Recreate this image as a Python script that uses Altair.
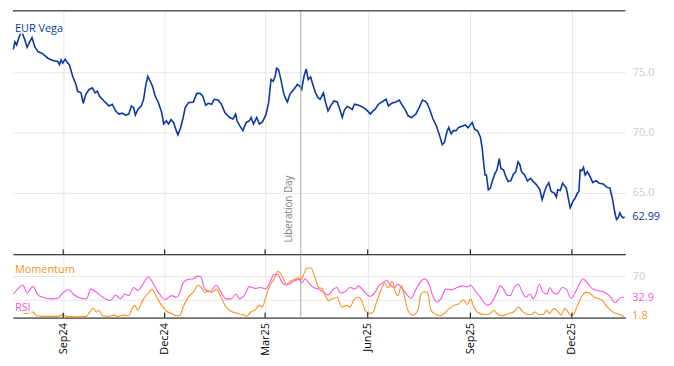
import altair as alt
import pandas as pd

# ---------------- data ----------------
START = "2024-07-18"          # day offsets below are counted from this date
END = "2026-01-18"

vega_days = [0.3, 1.8, 3.3, 5.6, 7.7, 10.6, 12.7, 15.1, 17.1, 19.5,
             22.4, 26.9, 31.3, 35.8, 40.2, 41.7, 43.2, 44.6, 46.8, 49.1,
             50.6, 53.5, 56.5, 57.9, 61.0, 63.0, 65.4, 68.3, 71.2, 73.6,
             75.7, 77.8, 81.6, 86.1, 89.0, 92.0, 94.9, 97.9, 100.9, 103.8,
             106.2, 108.2, 109.7, 112.1, 115.1, 117.1, 119.2, 120.9, 123.1, 125.1,
             127.5, 130.4, 133.3, 135.1, 137.5, 139.5, 141.7, 144.0, 146.4, 147.9,
             149.9, 152.3, 154.4, 157.3, 161.7, 164.8, 167.7, 170.1, 172.8, 175.1,
             178.1, 180.4, 183.9, 186.9, 189.9, 194.3, 197.2, 199.6, 200.8, 203.2,
             206.1, 209.1, 212.0, 213.5, 215.6, 218.5, 220.9, 223.8, 226.9, 229.2,
             231.3, 233.3, 235.1, 236.3, 238.1, 240.2, 242.2, 244.0, 246.0, 248.2,
             250.5, 252.9, 254.9, 257.1, 258.8, 260.9, 262.9, 264.7, 266.8, 268.8,
             271.2, 273.5, 275.3, 278.3, 280.3, 282.4, 284.8, 287.7, 290.7, 293.0,
             295.2, 297.2, 299.6, 301.9, 304.1, 306.1, 309.9, 314.4, 317.9, 320.3,
             322.7, 324.7, 327.6, 330.7, 334.5, 336.5, 339.5, 343.3, 346.3, 348.4,
             351.3, 354.3, 357.3, 361.1, 364.1, 367.1, 369.1, 371.2, 373.5, 376.5,
             379.5, 382.4, 384.8, 386.8, 388.9, 390.6, 392.8, 394.8, 397.2, 399.5,
             402.5, 405.5, 407.9, 411.7, 413.7, 416.7, 419.0, 420.5, 422.0, 423.2,
             424.4, 426.1, 427.9, 430.0, 432.1, 433.8, 435.9, 437.4, 439.8, 441.8,
             443.9, 446.3, 448.7, 450.7, 452.8, 454.5, 455.8, 458.7, 461.1, 464.0,
             466.4, 469.3, 472.3, 474.4, 476.5, 478.2, 480.3, 482.4, 485.3, 487.1,
             488.3, 490.6, 492.7, 496.0, 498.0, 499.5, 501.9, 504.0, 506.0, 507.3,
             508.4, 509.9, 511.4, 512.9, 514.9, 517.3, 519.7, 522.6, 525.5, 529.1,
             532.1, 535.1, 537.5, 539.5, 541.0, 542.5, 544.0, 545.5, 546.9, 548.4]

vega_vals = [76.91, 77.54, 77.27, 77.95, 78.44, 77.70, 77.07, 77.54, 77.89, 77.13,
             76.72, 76.53, 76.17, 75.98, 75.90, 75.63, 76.04, 75.76, 76.09, 75.76,
             75.63, 74.67, 73.99, 73.44, 73.30, 72.43, 73.17, 73.58, 73.71, 73.30,
             73.44, 72.98, 72.62, 72.21, 72.35, 71.80, 71.53, 71.61, 71.45, 71.53,
             72.21, 72.07, 71.45, 71.94, 72.21, 72.76, 73.99, 74.67, 74.26, 73.85,
             73.03, 72.48, 71.66, 70.71, 70.98, 70.71, 71.07, 70.84, 70.16, 69.81,
             70.30, 71.12, 72.07, 72.48, 72.54, 73.25, 73.25, 73.03, 72.27, 72.43,
             72.35, 72.76, 72.70, 72.35, 71.66, 71.25, 71.12, 71.53, 70.98, 70.57,
             70.16, 70.84, 70.98, 71.25, 70.71, 71.25, 70.71, 70.90, 71.53, 72.48,
             74.40, 74.26, 74.67, 75.35, 75.22, 74.40, 73.44, 72.89, 72.54, 73.17,
             73.44, 73.71, 73.99, 73.85, 73.58, 74.67, 75.27, 74.40, 74.61, 73.99,
             73.30, 72.89, 72.76, 73.30, 72.48, 71.80, 72.21, 72.62, 72.54, 71.94,
             71.25, 71.89, 72.16, 72.07, 71.89, 72.35, 72.27, 72.07, 71.80, 71.53,
             71.80, 71.94, 72.35, 72.54, 72.76, 72.21, 72.43, 72.54, 72.70, 72.35,
             71.94, 71.39, 71.25, 71.53, 72.07, 72.70, 72.62, 72.43, 71.94, 71.12,
             70.57, 69.75, 68.99, 69.20, 70.02, 70.43, 69.89, 70.16, 70.16, 70.43,
             70.52, 70.63, 70.39, 70.84, 70.30, 70.11, 69.61, 68.80, 67.43, 66.48,
             66.48, 65.25, 65.39, 66.07, 66.61, 66.89, 67.84, 67.02, 66.89, 66.34,
             65.93, 66.01, 66.56, 66.75, 67.57, 67.30, 66.75, 66.48, 65.98, 66.20,
             65.93, 65.66, 65.25, 64.43, 65.11, 65.52, 65.84, 65.11, 64.98, 64.65,
             65.25, 65.19, 65.80, 65.39, 64.43, 63.75, 64.29, 64.57, 64.98, 65.11,
             66.89, 66.83, 67.11, 66.48, 66.75, 66.34, 65.84, 66.01, 65.80, 65.74,
             65.47, 65.39, 64.43, 63.34, 62.79, 62.93, 63.34, 63.06, 62.93, 62.99]

rsi_days = [0.6, 9.1, 12.7, 18.0, 22.4, 26.9, 34.3, 40.2, 44.6, 49.9,
            55.0, 61.0, 65.9, 69.8, 74.3, 78.7, 83.1, 87.6, 92.0, 96.4,
            100.3, 103.8, 108.2, 112.1, 115.6, 121.5, 126.0, 130.4, 136.4, 142.2,
            146.7, 149.7, 152.6, 157.0, 161.5, 165.9, 168.3, 171.9, 176.3, 182.2,
            186.6, 191.0, 195.5, 199.9, 202.9, 207.3, 211.8, 217.6, 222.1, 226.5,
            230.9, 233.9, 237.5, 241.3, 245.1, 248.7, 251.7, 256.1, 259.0, 262.0,
            265.0, 269.4, 274.1, 278.6, 282.4, 287.4, 290.4, 293.4, 297.8, 302.3,
            306.7, 309.6, 314.1, 320.0, 324.5, 327.4, 331.8, 334.7, 337.8, 341.6,
            345.1, 348.1, 351.6, 356.9, 361.4, 365.3, 368.8, 372.4, 376.2, 380.0,
            383.5, 388.0, 392.4, 398.4, 402.8, 407.2, 410.2, 413.2, 419.0, 425.0,
            429.4, 433.8, 436.8, 439.8, 442.7, 445.7, 449.2, 453.1, 456.0, 459.8,
            463.4, 466.4, 469.3, 471.7, 475.3, 478.8, 481.1, 484.1, 487.7, 492.4,
            495.9, 500.4, 504.8, 507.7, 510.8, 515.2, 519.7, 525.5, 531.5, 535.9,
            539.7, 543.3, 546.3, 547.7]

rsi_vals = [39.8, 54.6, 41.5, 52.3, 38.2, 34.2, 31.6, 32.6, 41.5, 46.9,
            38.2, 32.6, 31.6, 48.1, 43.6, 37.0, 31.6, 28.8, 38.2, 31.6,
            39.8, 37.0, 50.7, 45.3, 53.5, 68.8, 56.3, 42.5, 30.5, 37.0,
            34.2, 42.5, 58.9, 64.5, 65.5, 70.0, 68.8, 48.1, 43.6, 54.6,
            42.5, 31.6, 31.6, 39.8, 31.6, 37.0, 52.3, 49.1, 50.7, 48.1,
            61.7, 72.8, 72.8, 58.9, 54.6, 57.9, 61.7, 64.5, 58.9, 65.5,
            58.9, 50.7, 48.1, 42.5, 38.2, 48.1, 50.7, 41.5, 43.6, 50.7,
            48.1, 53.5, 45.3, 35.9, 42.5, 52.3, 58.9, 63.4, 56.3, 50.7,
            56.3, 50.7, 42.5, 32.6, 48.1, 60.1, 65.5, 58.9, 37.0, 26.0,
            31.6, 48.1, 46.9, 50.7, 53.5, 52.3, 54.6, 48.1, 34.2, 20.6,
            26.0, 42.5, 53.5, 48.1, 38.2, 37.0, 50.7, 56.3, 45.3, 34.2,
            39.8, 31.6, 42.5, 56.3, 42.5, 39.8, 50.7, 42.5, 39.8, 50.7,
            48.1, 32.6, 45.3, 56.3, 65.5, 57.9, 48.1, 45.3, 41.5, 34.2,
            25.0, 31.6, 34.2, 32.9]

mom_days = [3.3, 12.2, 18.0, 21.0, 26.9, 35.8, 41.7, 44.6, 47.6, 56.5,
            65.4, 68.9, 71.9, 74.8, 77.2, 80.1, 86.1, 90.5, 93.4, 99.4,
            103.8, 106.7, 109.1, 112.1, 114.2, 117.1, 121.5, 124.5, 128.9, 133.3,
            137.8, 142.2, 146.7, 149.7, 152.6, 157.0, 161.5, 165.9, 168.8, 171.9,
            174.8, 178.3, 182.2, 186.6, 191.0, 197.0, 201.4, 205.8, 209.6, 213.2,
            217.6, 220.6, 223.6, 226.5, 230.9, 233.9, 237.5, 241.3, 245.1, 248.7,
            252.2, 256.1, 258.2, 260.6, 263.5, 267.0, 270.9, 273.9, 277.0, 280.0,
            283.0, 286.5, 290.4, 294.8, 299.3, 302.3, 305.2, 309.6, 312.6, 315.6,
            320.0, 323.0, 325.9, 330.3, 333.3, 335.6, 337.8, 339.8, 342.7, 345.1,
            348.1, 351.1, 354.0, 358.4, 362.9, 365.8, 368.8, 371.7, 374.7, 379.1,
            383.5, 386.5, 391.0, 395.4, 399.8, 403.7, 407.2, 410.2, 412.6, 416.1,
            422.1, 427.9, 430.9, 433.8, 438.3, 444.2, 448.7, 453.1, 456.0, 460.5,
            464.9, 467.8, 470.9, 475.3, 478.2, 481.1, 484.7, 487.7, 491.5, 494.4,
            496.6, 499.5, 502.4, 505.4, 509.3, 513.7, 516.7, 521.1, 525.5, 528.5,
            531.5, 535.9, 540.3, 543.9, 546.3, 547.7]

mom_vals = [12.3, 6.9, 9.5, 3.0, 2.0, 2.0, 2.5, 5.3, 2.0, 1.3,
            2.0, 9.5, 16.1, 9.5, 12.3, 3.0, 2.0, 4.1, 2.0, 4.1,
            3.0, 15.1, 20.6, 12.3, 20.6, 31.6, 41.5, 48.1, 34.2, 20.6,
            10.7, 6.9, 3.0, 4.1, 17.8, 34.2, 42.5, 54.6, 50.7, 42.5,
            45.3, 42.5, 48.1, 34.2, 17.8, 9.5, 6.9, 5.3, 2.5, 9.5,
            14.0, 20.6, 17.8, 34.2, 56.3, 64.5, 78.2, 70.0, 56.3, 61.7,
            64.5, 67.2, 63.4, 72.8, 83.6, 83.6, 67.2, 50.7, 49.1, 37.0,
            28.8, 31.6, 34.2, 17.8, 20.6, 17.8, 28.8, 34.2, 28.8, 12.3,
            6.9, 9.5, 26.0, 48.1, 58.9, 50.7, 53.5, 61.7, 43.6, 37.0,
            54.6, 34.2, 12.3, 4.1, 12.3, 39.8, 43.6, 41.5, 12.3, 5.3,
            3.0, 6.9, 15.1, 20.6, 23.4, 30.5, 21.7, 31.6, 20.6, 9.5,
            5.3, 6.9, 12.3, 6.9, 3.0, 6.9, 9.5, 17.8, 12.3, 5.3,
            5.3, 9.5, 5.3, 5.3, 12.3, 6.9, 15.1, 12.3, 4.1, 15.1,
            12.3, 4.1, 5.3, 17.8, 34.2, 42.5, 41.5, 34.2, 31.6, 28.8,
            20.6, 12.3, 6.9, 5.3, 3.0, 1.8]

tick_dates = ["2024-09-01", "2024-12-01", "2025-03-01",
              "2025-06-01", "2025-09-01", "2025-12-01"]
event_date = "2025-04-02"
event_label = "Liberation Day"
vega_title = "EUR Vega"
mom_title = "Momentum"
rsi_title = "RSI"
top_ticks = [65, 70, 75]
bottom_ticks = [30, 70]

# ---------------- styling ----------------
FONT = "Open Sans"
BLUE = "#0b37a0"
PINK = "#f555e0"
ORANGE = "#f7931e"
GRID = "#e6e6e6"
LABEL_GREY = "#cccccc"
EVENT_GREY = "#aaaaaa"
PAD = {"left": 2, "top": 0, "right": 5, "bottom": 5}

W, H1, H2 = 619, 246, 62


def to_dates(days):
    return pd.Timestamp(START) + pd.to_timedelta(pd.Series(days), unit="D")


vega_df = pd.DataFrame({"date": to_dates(vega_days), "value": vega_vals})
rsi_df = pd.DataFrame({"date": to_dates(rsi_days), "value": rsi_vals})
mom_df = pd.DataFrame({"date": to_dates(mom_days), "value": mom_vals})
ticks_df = pd.DataFrame({"date": pd.to_datetime(tick_dates)})
event_df = pd.DataFrame({"date": pd.to_datetime([event_date]), "label": [event_label]})
one_df = pd.DataFrame({"k": [0]})


def dt(s):
    y, m, d = (int(p) for p in s.split("-"))
    return alt.DateTime(year=y, month=m, date=d)


xscale = alt.Scale(domain=[dt(START), dt(END)])
tick_vals = [dt(s) for s in tick_dates]

# identical axis objects in every layer of a panel, so that they merge cleanly
top_xaxis = alt.Axis(values=tick_vals, labels=False, ticks=False, domain=True,
                     domainColor="black", domainWidth=1, grid=True, gridColor=GRID,
                     title=None)
bot_xaxis = alt.Axis(values=tick_vals, format="%b%y", labelAngle=270, labelAlign="right",
                     labelBaseline="middle", labelPadding=5, labelFontSize=11,
                     labelFont=FONT, labelColor="black", ticks=False, domain=True,
                     domainColor="black", domainWidth=1, grid=True, gridColor=GRID,
                     title=None)
ytop_scale = alt.Scale(domain=[59.9, 80.1], zero=False, nice=False)
ytop_axis = alt.Axis(orient="right", values=top_ticks, format=".1f", domain=False,
                     ticks=False, labelColor=LABEL_GREY, labelFontSize=11,
                     labelFont=FONT, labelPadding=7, grid=True, gridColor=GRID,
                     title=None)
ybot_scale = alt.Scale(domain=[0, 103.5], zero=False, nice=False)
ybot_axis = alt.Axis(orient="right", values=bottom_ticks,
                     labelExpr="datum.value == 70 ? '70' : ''", domain=False,
                     ticks=False, labelColor=LABEL_GREY, labelFontSize=11,
                     labelFont=FONT, labelPadding=7, grid=True, gridColor=GRID,
                     title=None)


def xt():
    return alt.X("date:T", scale=xscale, axis=top_xaxis)


def xb():
    return alt.X("date:T", scale=xscale, axis=bot_xaxis)


def yt():
    return alt.Y("value:Q", scale=ytop_scale, axis=ytop_axis)


def yb():
    return alt.Y("value:Q", scale=ybot_scale, axis=ybot_axis)


def label(text, x, y, color, size=11):
    base = alt.Chart(one_df)
    halo = base.mark_text(text=text, align="left", baseline="alphabetic", font=FONT,
                          fontSize=size, fill="white", stroke="white", strokeWidth=4,
                          strokeOpacity=0.85, fillOpacity=0.85).encode(
        x=alt.value(x), y=alt.value(y))
    txt = base.mark_text(text=text, align="left", baseline="alphabetic", font=FONT,
                         fontSize=size, color=color).encode(x=alt.value(x), y=alt.value(y))
    return halo + txt


# ---------------- top panel ----------------
top_line = alt.Chart(vega_df).mark_line(color=BLUE, strokeWidth=1.6).encode(x=xt(), y=yt())
top_event = alt.Chart(event_df).mark_rule(color=EVENT_GREY, strokeWidth=1).encode(x=xt())
top_event_text = alt.Chart(event_df).mark_text(
    angle=270, align="left", baseline="bottom", dy=-7, fontSize=10, font=FONT,
    color="#808080").encode(x=xt(), y=alt.value(H1 - 12), text="label:N")
top_ticks_rule = alt.Chart(ticks_df).mark_rule(color="black").encode(
    x=xt(), y=alt.value(H1 - 5), y2=alt.value(H1))
top_border = alt.Chart(one_df).mark_rule(color="black", strokeWidth=1).encode(
    x=alt.value(0), x2=alt.value(W), y=alt.value(0))

last_vega = vega_df.tail(1).assign(txt=lambda d: d["value"].map(lambda v: f"{v:.2f}"))
top_last = alt.Chart(last_vega).mark_text(align="left", baseline="middle", font=FONT,
                                          fontSize=11, color=BLUE).encode(
    x=alt.value(W + 7), y=yt(), text="txt:N")

top = alt.layer(
    top_line, top_event, top_ticks_rule, top_border, top_event_text, top_last,
    label(vega_title, 2, 21, BLUE),
).properties(width=W, height=H1)

# ---------------- bottom panel ----------------
rsi_line = alt.Chart(rsi_df).mark_line(color=PINK, strokeWidth=1.1,
                                       interpolate="monotone").encode(x=xb(), y=yb())
mom_line = alt.Chart(mom_df).mark_line(color=ORANGE, strokeWidth=1.1,
                                       interpolate="monotone").encode(x=xb(), y=yb())
bot_event = alt.Chart(event_df).mark_rule(color=EVENT_GREY, strokeWidth=1).encode(x=xb())
bot_ticks_rule = alt.Chart(ticks_df).mark_rule(color="black").encode(
    x=xb(), y=alt.value(H2 - 5), y2=alt.value(H2))

last_rsi = rsi_df.tail(1).assign(txt=lambda d: d["value"].map(lambda v: f"{v:.1f}"))
last_mom = mom_df.tail(1).assign(txt=lambda d: d["value"].map(lambda v: f"{v:.1f}"))
rsi_last = alt.Chart(last_rsi).mark_text(align="left", baseline="middle", font=FONT,
                                         fontSize=11, color=PINK).encode(
    x=alt.value(W + 7), y=yb(), text="txt:N")
mom_last = alt.Chart(last_mom).mark_text(align="left", baseline="middle", font=FONT,
                                         fontSize=11, color=ORANGE).encode(
    x=alt.value(W + 7), y=yb(), text="txt:N")

bottom = alt.layer(
    rsi_line, bot_event, mom_line, bot_ticks_rule, rsi_last, mom_last,
    label(mom_title, 2, 17, ORANGE), label(rsi_title, 2, 55, PINK),
).properties(width=W, height=H2)

chart = alt.vconcat(top, bottom, spacing=0).properties(
    padding=PAD
).configure(font=FONT, padding=PAD).configure_view(stroke=None)

chart.save("out.html", embed_options={"renderer": "svg", "actions": False})
